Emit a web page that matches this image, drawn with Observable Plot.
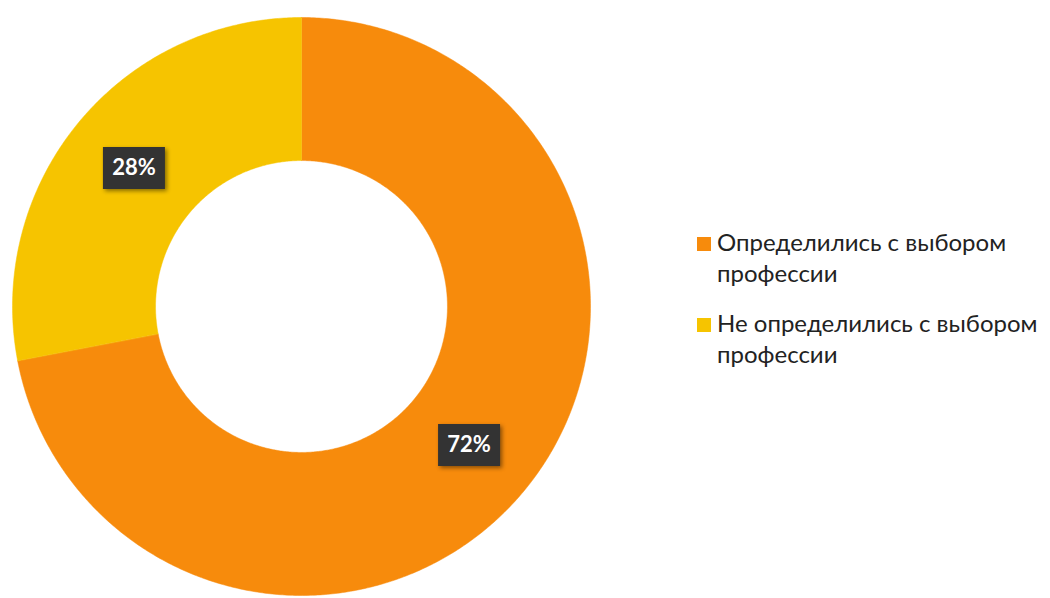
<!DOCTYPE html>
<html><head><meta charset="utf-8">
<script src="https://cdn.jsdelivr.net/npm/d3@7"></script>
<script src="https://cdn.jsdelivr.net/npm/@observablehq/plot@0.6"></script>
<style>
body{margin:0;background:#fff;font-family:Lato,"Open Sans",sans-serif;}
#wrap{position:relative;width:1050px;height:598px;overflow:hidden;}
#legend{position:absolute;left:697px;top:226px;}
.item{display:flex;align-items:flex-start;margin-bottom:19px;}
.sw{width:14px;height:14px;margin-top:11px;margin-right:6px;flex:none;}
.lab{width:340px;font-size:24px;line-height:31px;color:#222;}
</style>
</head><body>
<div id="wrap"><div id="chart"></div><div id="legend"></div></div>
<script>
const categories = ["Определились с выбором профессии", "Не определились с выбором профессии"];
const values = [72, 28];
const labels = ["72%", "28%"];
const colors = ["#F78B0C", "#F6C400"];

const total = d3.sum(values);
const innerR = 0.505, outerR = 1, midR = (innerR + outerR) / 2;
let acc = 0;
const slices = values.map((v, i) => {
  const a0 = acc / total * 2 * Math.PI; acc += v;
  const a1 = acc / total * 2 * Math.PI;
  return {name: categories[i], label: labels[i], a0, a1, am: (a0 + a1) / 2};
});
const pts = slices.flatMap(s => {
  const n = Math.max(2, Math.ceil((s.a1 - s.a0) / (2 * Math.PI) * 720));
  const out = [];
  for (let k = 0; k <= n; k++) { const a = s.a0 + (s.a1 - s.a0) * k / n; out.push({name: s.name, x: outerR * Math.sin(a), y: outerR * Math.cos(a)}); }
  for (let k = n; k >= 0; k--) { const a = s.a0 + (s.a1 - s.a0) * k / n; out.push({name: s.name, x: innerR * Math.sin(a), y: innerR * Math.cos(a)}); }
  return out;
});
const boxSymbol = {draw(ctx) { ctx.moveTo(-31, -21); ctx.lineTo(31, -21); ctx.lineTo(31, 21); ctx.lineTo(-31, 21); ctx.closePath(); }};

const chart = Plot.plot({
  width: 1050, height: 598, margin: 0,
  style: {background: "transparent"},
  x: {domain: [-1, 1], range: [12, 590], axis: null},
  y: {domain: [-1, 1], range: [595, 17], axis: null},
  color: {domain: categories, range: colors},
  marks: [
    Plot.line(pts, {x: "x", y: "y", z: "name", fill: "name", stroke: "name", strokeWidth: 0.5, curve: "linear-closed"}),
    Plot.dot(slices, {x: d => midR * Math.sin(d.am), y: d => midR * Math.cos(d.am), symbol: boxSymbol, r: 10, fill: "#333", stroke: "none"}),
    Plot.text(slices, {x: d => midR * Math.sin(d.am), y: d => midR * Math.cos(d.am), text: "label", fill: "white", fontSize: 22, fontWeight: "bold", fontFamily: "Lato, 'Open Sans', sans-serif"})
  ]
});
document.getElementById("chart").append(chart);
d3.select(chart).selectAll('g[aria-label="dot"] path').style("filter", "drop-shadow(2px 2px 2px rgba(0,0,0,0.45))");

const legend = d3.select("#legend");
categories.forEach((c, i) => {
  const it = legend.append("div").attr("class", "item");
  it.append("div").attr("class", "sw").style("background", colors[i]);
  it.append("div").attr("class", "lab").text(c);
});
</script>
</body></html>
